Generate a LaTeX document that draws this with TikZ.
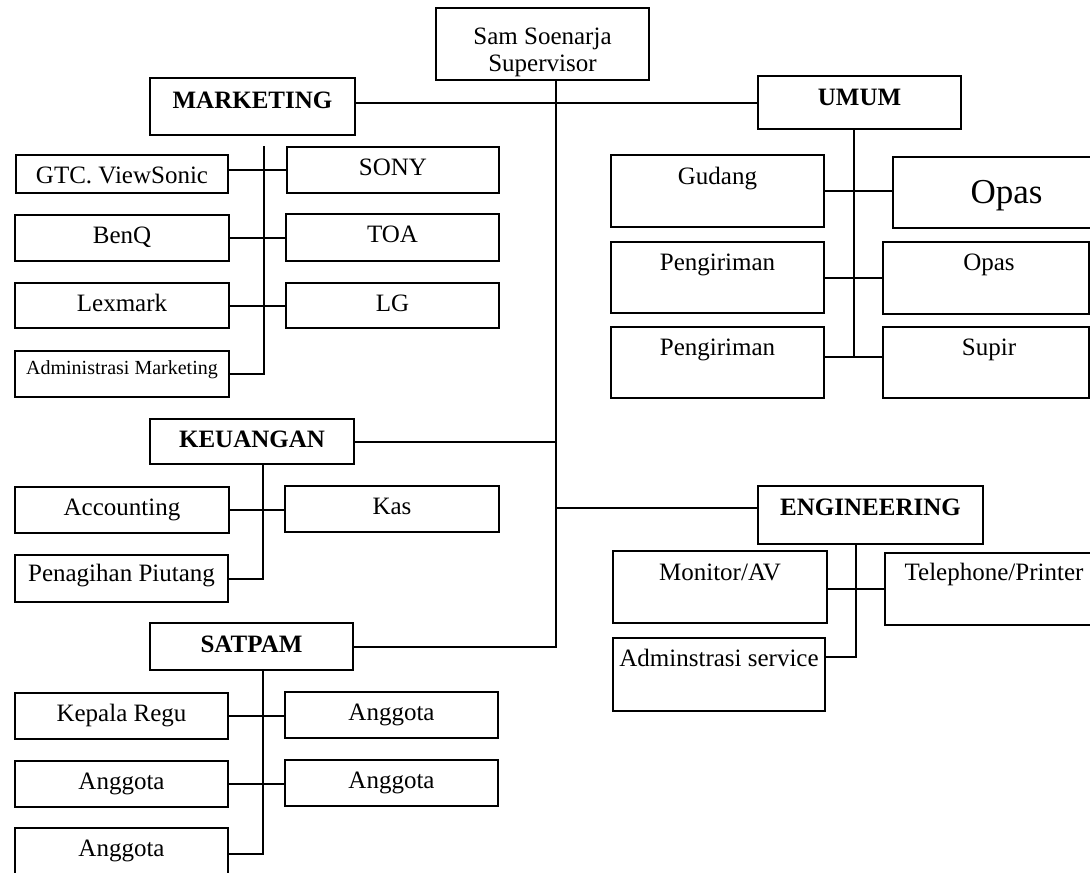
\documentclass[tikz,border=0pt]{standalone}
\usepackage{fontspec}
\setmainfont{Liberation Serif}
\begin{document}
\begin{tikzpicture}[x=1pt,y=-1pt,
  box/.style={draw, line width=2pt, anchor=north west, inner sep=0pt, outer sep=0pt},
  lbl/.style={anchor=base, yshift=-28.5pt, font=\fontsize{25}{30}\selectfont},
  head/.style={lbl, font=\fontsize{25}{30}\selectfont\bfseries},
  link/.style={line width=2pt}]
\useasboundingbox (0,0) rectangle (1090,873);

% supervisor (label shifts add to the -28.5pt of lbl)
\node[box, minimum width=213pt, minimum height=72pt,
      label={[lbl, align=center, anchor=north, yshift=12.5pt, font=\fontsize{25}{27}\selectfont]north:Sam Soenarja\\Supervisor}] (sam) at (436,8) {};

% department heads
\node[box, minimum width=205pt, minimum height=57pt, label={[head, yshift=-2pt]north:MARKETING}] (marketing) at (150,78) {};
\node[box, minimum width=203pt, minimum height=53pt, label={[head, yshift=-1pt]north:UMUM}] (umum) at (758,76) {};
\node[box, minimum width=204pt, minimum height=45pt, label={[head]north:KEUANGAN}] (keuangan) at (150,419) {};
\node[box, minimum width=225pt, minimum height=58pt, label={[head, yshift=-1pt]north:ENGINEERING}] (engineering) at (758,486) {};
\node[box, minimum width=203pt, minimum height=47pt, label={[head, yshift=-1pt]north:SATPAM}] (satpam) at (150,623) {};

% marketing
\node[box, minimum width=212pt, minimum height=38pt, label={[lbl]north:GTC. ViewSonic}] (gtc) at (16,155) {};
\node[box, minimum width=212pt, minimum height=46pt, label={[lbl]north:SONY}] (sony) at (287,147) {};
\node[box, minimum width=214pt, minimum height=46pt, label={[lbl]north:BenQ}] (benq) at (15,215) {};
\node[box, minimum width=213pt, minimum height=47pt, label={[lbl]north:TOA}] (toa) at (286,214) {};
\node[box, minimum width=214pt, minimum height=45pt, label={[lbl]north:Lexmark}] (lexmark) at (15,283) {};
\node[box, minimum width=213pt, minimum height=45pt, label={[lbl]north:LG}] (lg) at (286,283) {};
\node[box, minimum width=214pt, minimum height=46pt,
      label={[lbl, yshift=5pt, font=\fontsize{20}{24}\selectfont]north:Administrasi Marketing}] (admm) at (15,351) {};

% umum
\node[box, minimum width=213pt, minimum height=72pt, label={[lbl, yshift=-1pt]north:Gudang}] (gudang) at (611,155) {};
\node[box, minimum width=227pt, minimum height=71pt,
      label={[lbl, yshift=-18pt, font=\fontsize{35}{40}\selectfont]north:Opas}] (opasA) at (893,157) {};
\node[box, minimum width=213pt, minimum height=71pt, label={[lbl]north:Pengiriman}] (peng1) at (611,242) {};
\node[box, minimum width=206pt, minimum height=72pt, label={[lbl, xshift=3pt]north:Opas}] (opasB) at (883,242) {};
\node[box, minimum width=213pt, minimum height=71pt, label={[lbl]north:Pengiriman}] (peng2) at (611,327) {};
\node[box, minimum width=206pt, minimum height=71pt, label={[lbl, xshift=3pt]north:Supir}] (supir) at (883,327) {};

% keuangan
\node[box, minimum width=214pt, minimum height=46pt, label={[lbl]north:Accounting}] (accounting) at (15,487) {};
\node[box, minimum width=214pt, minimum height=46pt, label={[lbl]north:Kas}] (kas) at (285,486) {};
\node[box, minimum width=213pt, minimum height=47pt, label={[lbl, yshift=2pt]north:Penagihan Piutang}] (penagihan) at (15,555) {};

% engineering
\node[box, minimum width=214pt, minimum height=72pt, label={[lbl, yshift=-1pt]north:Monitor/AV}] (monitor) at (613,551) {};
\node[box, minimum width=218pt, minimum height=72pt, label={[lbl, yshift=1pt]north:Telephone/Printer}] (telephone) at (885,553) {};
\node[box, minimum width=212pt, minimum height=73pt, label={[lbl]north:Adminstrasi service}] (admsvc) at (613,638) {};

% satpam
\node[box, minimum width=213pt, minimum height=46pt, label={[lbl]north:Kepala Regu}] (kepala) at (15,693) {};
\node[box, minimum width=213pt, minimum height=46pt, label={[lbl]north:Anggota}] (ang1) at (285,692) {};
\node[box, minimum width=213pt, minimum height=46pt, label={[lbl]north:Anggota}] (ang2) at (15,761) {};
\node[box, minimum width=213pt, minimum height=46pt, label={[lbl]north:Anggota}] (ang3) at (285,760) {};
\node[box, minimum width=213pt, minimum height=52pt, label={[lbl]north:Anggota}] (ang4) at (15,828) {};

% trunk and branch points
\coordinate (tk) at (556,0);
\coordinate (engj) at (556,508);
\coordinate (mtop) at (264,146);
\coordinate (uv) at (854,357);
\coordinate (kv) at (263,0);
\coordinate (ev) at (856,657);

% trunk from supervisor to departments
\draw[link] (sam.south -| tk) -- (satpam.east -| tk) -- (satpam.east);
\draw[link] (marketing.east |- umum.west) -- (umum.west);
\draw[link] (keuangan.east) -- (keuangan.east -| tk);
\draw[link] (engj) -- (engj -| engineering.west);

% marketing branch
\draw[link] (mtop) -- (mtop |- admm.east) -- (admm.east);
\draw[link] (gtc.east |- sony.west) -- (sony.west);
\draw[link] (benq.east) -- (benq.east -| toa.west);
\draw[link] (lexmark.east) -- (lexmark.east -| lg.west);

% umum branch
\draw[link] (umum.south -| uv) -- (uv);
\draw[link] (gudang.east) -- (gudang.east -| opasA.west);
\draw[link] (peng1.east) -- (peng1.east -| opasB.west);
\draw[link] (peng2.east |- uv) -- (supir.west |- uv);

% keuangan branch
\draw[link] (keuangan.south -| kv) -- (penagihan.east -| kv) -- (penagihan.east);
\draw[link] (accounting.east) -- (accounting.east -| kas.west);

% engineering branch
\draw[link] (engineering.south -| ev) -- (ev) -- (ev -| admsvc.east);
\draw[link] (monitor.east |- telephone.west) -- (telephone.west);

% satpam branch
\draw[link] (satpam.south -| kv) -- (ang4.east -| kv) -- (ang4.east);
\draw[link] (kepala.east) -- (kepala.east -| ang1.west);
\draw[link] (ang2.east) -- (ang2.east -| ang3.west);
\end{tikzpicture}
\end{document}
